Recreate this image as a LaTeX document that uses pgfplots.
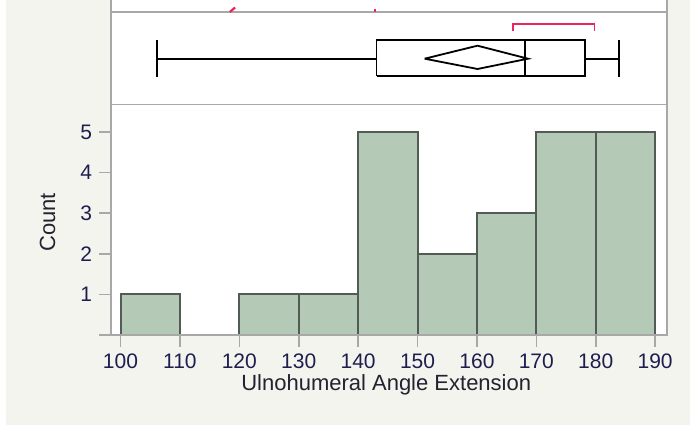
\documentclass[border=0pt]{standalone}
\usepackage{pgfplots}
\pgfplotsset{compat=1.18}
\usepackage{fontspec}
\setmainfont{Liberation Sans}

\definecolor{pagebg}{HTML}{F4F4EF}
\definecolor{framegray}{HTML}{A8A8A8}
\definecolor{barfill}{HTML}{B5CAB6}
\definecolor{baredge}{HTML}{525B54}
\definecolor{tickcol}{HTML}{1E1E4E}
\definecolor{labcol}{HTML}{222230}
\definecolor{shorthalf}{HTML}{F0245C}

\begin{document}
\begin{tikzpicture}
\useasboundingbox (0pt,0pt) rectangle (345pt,213.5pt);
\fill[white] (0pt,0pt) rectangle (345pt,213.5pt);
\fill[pagebg] (3pt,1pt) rectangle (345pt,213.5pt);
% report panels
\fill[white] (55.5pt,46pt) rectangle (333.5pt,213.5pt);
\draw[framegray, line width=0.8pt]
  (55.5pt,213.5pt) -- (55.5pt,161.25pt)
  (333.5pt,213.5pt) -- (333.5pt,161.25pt)
  (55.5pt,207.35pt) -- (333.5pt,207.35pt);

% histogram
\begin{axis}[
  at={(55.5pt,46pt)}, anchor=south west,
  scale only axis, width=278pt, height=115.25pt,
  xmin=98.4, xmax=192, ymin=0, ymax=5.68,
  axis line style={framegray, line width=0.8pt},
  tick style={framegray, line width=0.8pt},
  tick align=outside, major tick length=6pt,
  xtick pos=bottom, ytick pos=left,
  xtick={100,110,...,190},
  ytick={0,1,2,3,4,5},
  yticklabels={,1,2,3,4,5},
  /pgf/number format/assume math mode=true,
  tick label style={font=\fontsize{10.5}{12}\selectfont, text=tickcol},
  xlabel={Ulnohumeral Angle Extension},
  ylabel={Count},
  label style={font=\fontsize{11}{13}\selectfont, text=labcol},
  xlabel style={at={(axis description cs:0.495,-0.217)}, anchor=center},
  ylabel style={at={(axis description cs:-0.114,0.488)}, anchor=center},
  axis on top,
]
\addplot[ybar interval, fill=barfill, draw=baredge, line width=1pt]
  coordinates {(100,1) (110,0)};
\addplot[ybar interval, fill=barfill, draw=baredge, line width=1pt]
  coordinates {(120,1) (130,1) (140,5) (150,2) (160,3) (170,5) (180,5) (190,5)};
\end{axis}

% outlier box plot
\begin{axis}[
  at={(55.5pt,161.25pt)}, anchor=south west,
  scale only axis, width=278pt, height=52.25pt,
  xmin=98.4, xmax=192, ymin=0, ymax=104.5,
  axis lines=none, clip=false,
]
% whiskers and caps
\addplot[black, line width=0.9pt] coordinates {(106.1,45.8) (143.1,45.8)};
\addplot[black, line width=0.9pt] coordinates {(178.2,45.8) (183.9,45.8)};
\addplot[black, line width=0.9pt] coordinates {(106.1,27.5) (106.1,64.5)};
\addplot[black, line width=0.9pt] coordinates {(183.9,27.5) (183.9,64.5)};
% quartile box and median
\addplot[black, line width=0.9pt] coordinates {(143.1,28.2) (178.2,28.2) (178.2,64.2) (143.1,64.2) (143.1,28.2)};
\addplot[black, line width=0.9pt] coordinates {(168.1,28.2) (168.1,64.2)};
% means diamond
\addplot[black, line width=0.9pt] coordinates {(151.2,45.8) (160.1,58.8) (168.6,45.8) (160.1,35.5) (151.2,45.8)};
% shortest half bracket
\addplot[shorthalf, line width=0.9pt] coordinates {(166.1,73.5) (166.1,80.8) (179.8,80.8) (179.8,73.5)};
% ends of the panel above
\addplot[shorthalf, line width=1.1pt] coordinates {(118.4,92.5) (119.3,97.0)};
\addplot[shorthalf, line width=1.0pt] coordinates {(142.8,92.5) (142.8,95.5)};
\end{axis}
\end{tikzpicture}
\end{document}
